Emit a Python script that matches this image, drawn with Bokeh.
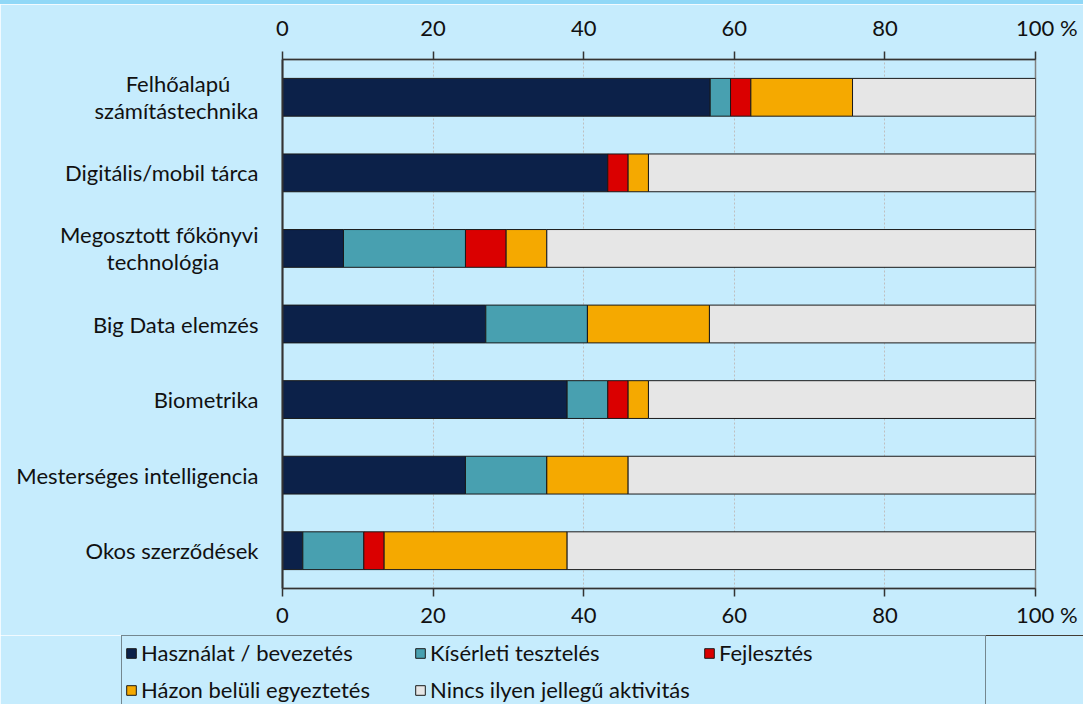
from bokeh.plotting import figure
from bokeh.layouts import column
from bokeh.models import (ColumnDataSource, FactorRange, Range1d, LinearAxis,
                          FixedTicker, Legend, LegendItem, Div)
from bokeh.embed import file_html
from bokeh.resources import INLINE

NB = "\u00a0"
categories = ["Felhőalapú számítástechnika", "Digitális/mobil tárca",
              "Megosztott főkönyvi technológia", "Big Data elemzés",
              "Biometrika", "Mesterséges intelligencia", "Okos szerződések"]
category_labels = ["Felhőalapú" + NB * 5 + "\nszámítástechnika",
                   "Digitális/mobil tárca",
                   "Megosztott főkönyvi\ntechnológia" + NB * 7,
                   "Big Data elemzés", "Biometrika",
                   "Mesterséges intelligencia", "Okos szerződések"]
series_names = ["Használat / bevezetés", "Kísérleti tesztelés", "Fejlesztés",
                "Házon belüli egyeztetés", "Nincs ilyen jellegű aktivitás"]
hasznalat = [56.8, 43.2, 8.1, 27.0, 37.8, 24.3, 2.7]
kiserleti = [2.7, 0.0, 16.2, 13.5, 5.4, 10.8, 8.1]
fejlesztes = [2.7, 2.7, 5.4, 0.0, 2.7, 0.0, 2.7]
hazon_belul = [13.5, 2.7, 5.4, 16.2, 2.7, 10.8, 24.3]
nincs = [24.3, 51.4, 64.9, 43.3, 51.4, 54.1, 62.2]
x_ticks = [0, 20, 40, 60, 80, 100]
x_tick_labels = {100: NB * 4 + "100 %"}
colors = ["#0c2149", "#48a0b0", "#da0000", "#f5a900", "#e6e6e6"]

BG = "#c6ecfd"
FONT = "Lato"
FS = "22px"
TXT = "#111111"

keys = ["s0", "s1", "s2", "s3", "s4"]
source = ColumnDataSource(dict(cat=category_labels, s0=hasznalat, s1=kiserleti,
                               s2=fejlesztes, s3=hazon_belul, s4=nincs))

stripe = Div(text="", width=1083, height=4,
             styles={"background-color": "#90d8f7", "margin": "0", "padding": "0"})

p = figure(width=1083, height=631, output_backend="svg", toolbar_location=None,
           y_range=FactorRange(*category_labels[::-1]), x_range=Range1d(0, 100),
           x_axis_location="below",
           min_border_left=282, min_border_right=48,
           min_border_top=55, min_border_bottom=47)
p.background_fill_color = BG
p.border_fill_color = BG
p.outline_line_color = "#808080"
p.outline_line_width = 1.5

renderers = p.hbar_stack(keys, y="cat", height=0.5, color=colors, source=source,
                         line_color="#1a1a1a", line_width=1)

p.ygrid.grid_line_color = None
p.xgrid.ticker = FixedTicker(ticks=[20, 40, 60, 80])
p.xgrid.grid_line_color = "#bfbfbf"
p.xgrid.grid_line_dash = "2 2"
p.xgrid.grid_line_width = 1

def style_x(ax, standoff):
    ax.ticker = FixedTicker(ticks=x_ticks)
    ax.major_label_overrides = x_tick_labels
    ax.axis_line_color = "#333333"
    ax.axis_line_width = 1.5
    ax.major_tick_line_color = "#333333"
    ax.major_tick_line_width = 1.5
    ax.major_tick_in = 0
    ax.major_tick_out = 8
    ax.minor_tick_line_color = None
    ax.major_label_text_font = FONT
    ax.major_label_text_font_size = FS
    ax.major_label_text_color = TXT
    ax.major_label_standoff = standoff

style_x(p.xaxis[0], 4)
top = LinearAxis()
style_x(top, 11)
p.add_layout(top, "above")

ya = p.yaxis[0]
ya.axis_line_color = "#333333"
ya.axis_line_width = 2
ya.major_tick_line_color = None
ya.minor_tick_line_color = None
ya.major_tick_out = 0
ya.major_tick_in = 0
ya.major_label_standoff = 24
ya.major_label_text_font = FONT
ya.major_label_text_font_size = FS
ya.major_label_text_color = TXT
ya.major_label_text_line_height = 1.0

# legend strip below the chart
lg = figure(width=1083, height=69, output_backend="svg", toolbar_location=None,
            x_range=Range1d(0, 1), y_range=Range1d(0, 1),
            x_axis_location=None, y_axis_location=None,
            min_border_left=121, min_border_right=0,
            min_border_top=0, min_border_bottom=0)
for fig in (p, lg):
    try:
        fig.frame_align = False
    except Exception:
        pass
lg.background_fill_color = BG
lg.border_fill_color = BG
lg.outline_line_color = None
lg.xgrid.grid_line_color = None
lg.ygrid.grid_line_color = None
lg_renderers = [lg.hbar(y=[5], left=[0], right=[1], height=0.5, fill_color=c,
                        line_color="#1a1a1a", line_width=1) for c in colors]

legend = Legend(items=[LegendItem(label=n, renderers=[r])
                       for n, r in zip(series_names, lg_renderers)],
                location="top_left", orientation="horizontal", ncols=3,
                glyph_width=12, glyph_height=12, label_standoff=4,
                label_width=263, spacing=10, padding=3, margin=0,
                label_text_font=FONT, label_text_font_size=FS,
                label_text_color=TXT, label_text_line_height=0.9,
                border_line_color="#222222", border_line_width=1,
                background_fill_color=BG, background_fill_alpha=1)
lg.add_layout(legend)

layout = column(stripe, p, lg, spacing=0)
open("out.html", "w").write(file_html(layout, INLINE))
